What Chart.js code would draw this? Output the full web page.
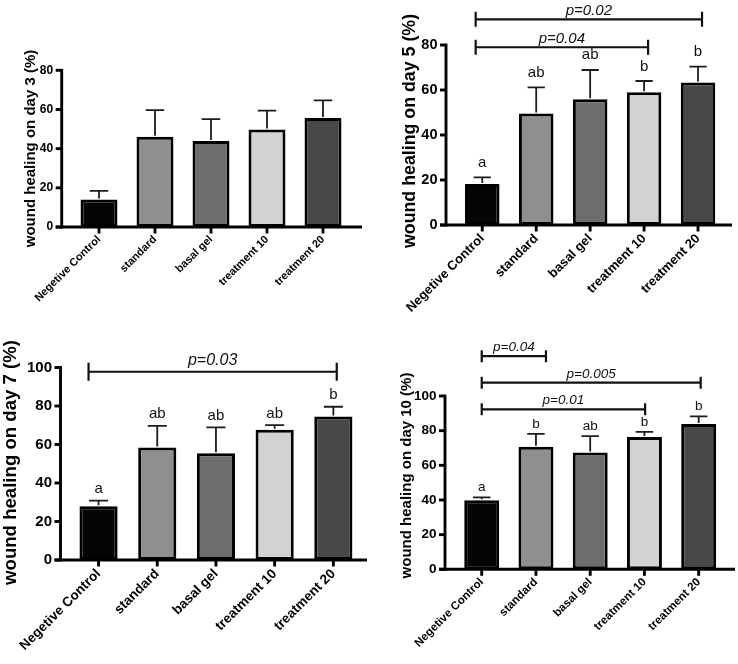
<!DOCTYPE html>
<html><head><meta charset="utf-8">
<script src="https://cdn.jsdelivr.net/npm/chart.js@4.4.1/dist/chart.umd.min.js"></script>
<style>
html,body{margin:0;padding:0;background:#fff;}
#wrap{position:relative;width:738px;height:664px;overflow:hidden;background:#fff;}
canvas{position:absolute;}
</style></head><body><div id="wrap"></div>
<script>
// ---------- DATA ----------
const categories = ['Negetive Control', 'standard', 'basal gel', 'treatment 10', 'treatment 20'];
const barColors = ['#050505', '#8f8f8f', '#6d6d6d', '#d2d2d2', '#484848'];

const day3Means = [14.1, 46.1, 43.9, 49.8, 55.6];
const day3Errors = [4.3, 13.6, 11.2, 9.6, 9.0];
const day3Ticks = [0, 20, 40, 60, 80];
const day3Letters = [];
const day3Brackets = [];

const day5Means = [18.2, 49.6, 55.9, 59.0, 63.3];
const day5Errors = [3.0, 11.6, 13.0, 5.0, 7.1];
const day5Ticks = [0, 20, 40, 60, 80];
const day5Letters = ['a', 'ab', 'ab', 'b', 'b'];
const day5Brackets = [
  { from: 0, to: 3, level: 79.0, label: 'p=0.04' },
  { from: 0, to: 4, level: 91.4, label: 'p=0.02' }
];

const day7Means = [27.9, 58.5, 55.5, 67.6, 74.6];
const day7Errors = [2.9, 11.2, 13.4, 2.5, 5.0];
const day7Ticks = [0, 20, 40, 60, 80, 100];
const day7Letters = ['a', 'ab', 'ab', 'ab', 'b'];
const day7Brackets = [
  { from: 0, to: 4, level: 97.8, label: 'p=0.03' }
];

const day10Means = [39.8, 70.7, 67.4, 76.4, 83.8];
const day10Errors = [1.7, 7.5, 9.4, 2.9, 4.4];
const day10Ticks = [0, 20, 40, 60, 80, 100];
const day10Letters = ['a', 'b', 'ab', 'b', 'b'];
const day10Brackets = [
  { from: 0, to: 1, level: 123.0, label: 'p=0.04' },
  { from: 0, to: 4, level: 107.7, label: 'p=0.005' },
  { from: 0, to: 3, level: 92.3, label: 'p=0.01' }
];

// ---------- LAYOUT / STYLE ----------
const FONT = "'Liberation Sans', Arial, Helvetica, sans-serif";
const panels = [
  { title: 'wound healing on day 3 (%)', means: day3Means, errors: day3Errors, ticks: day3Ticks,
    letters: day3Letters, brackets: day3Brackets, nudges: [],
    box: { x: 0, y: 0, w: 369, h: 330 }, axisX: 61.7, left: 71, right: 351, top: 70.3, bottom: 227, axisEnd: 362,
    barPct: 0.66, yFont: 12, xFont: 11, xPad: 6, titleFont: 15, titlePos: [31, 148.5],
    letterFont: 15, letterGap: 10, pFont: 15, pGap: 4.5, bracketTick: 7.5 },
  { title: 'wound healing on day 5 (%)', means: day5Means, errors: day5Errors, ticks: day5Ticks,
    letters: day5Letters, brackets: day5Brackets, nudges: [[-6.6, 4], [-6.6, 4]],
    box: { x: 369, y: 0, w: 369, h: 330 }, axisX: 446, left: 455.3, right: 725, top: 45, bottom: 225, axisEnd: 732,
    barPct: 0.64, yFont: 14.5, xFont: 13, xPad: 6, titleFont: 17.8, titlePos: [410, 131],
    letterFont: 15, letterGap: 10.5, pFont: 15, pGap: 4.5, bracketTick: 7.5 },
  { title: 'wound healing on day 7 (%)', means: day7Means, errors: day7Errors, ticks: day7Ticks,
    letters: day7Letters, brackets: day7Brackets, nudges: [[-10, 3.4]],
    box: { x: 0, y: 330, w: 369, h: 334 }, axisX: 60.5, left: 69.2, right: 362.7, top: 367.5, bottom: 560, axisEnd: 367,
    barPct: 0.65, yFont: 15, xFont: 13.5, xPad: 6, titleFont: 18.6, titlePos: [11, 462.5],
    letterFont: 15, letterGap: 7.5, pFont: 16, pGap: 7, bracketTick: 9 },
  { title: 'wound healing on day 10 (%)', means: day10Means, errors: day10Errors, ticks: day10Ticks,
    letters: day10Letters, brackets: day10Brackets, nudges: [[0, 10], [0, 2], [0, 0.7]],
    box: { x: 369, y: 330, w: 369, h: 334 }, axisX: 445, left: 454.6, right: 725.8, top: 396, bottom: 569.3, axisEnd: 735,
    barPct: 0.645, yFont: 13.5, xFont: 11.5, xPad: 6, titleFont: 15, titlePos: [407, 475.5],
    letterFont: 13.5, letterGap: 6, pFont: 13.5, pGap: 5, bracketTick: 6 }
];

const wrap = document.getElementById('wrap');

panels.forEach((p, idx) => {
  const cv = document.createElement('canvas');
  cv.width = p.box.w; cv.height = p.box.h;
  cv.style.left = p.box.x + 'px'; cv.style.top = p.box.y + 'px';
  cv.style.width = p.box.w + 'px'; cv.style.height = p.box.h + 'px';
  wrap.appendChild(cv);

  const yMax = p.ticks[p.ticks.length - 1];
  const yStep = p.ticks[1] - p.ticks[0];

  const decor = {
    id: 'decor' + idx,
    afterDraw(chart) {
      const ctx = chart.ctx;
      const xs = chart.scales.x, ys = chart.scales.y;
      const ox = p.box.x, oy = p.box.y;
      const ax = p.axisX - ox;
      const y0 = ys.getPixelForValue(0);
      const yT = ys.getPixelForValue(yMax);
      ctx.save();
      ctx.strokeStyle = '#000';
      ctx.lineWidth = 2.9;
      ctx.lineCap = 'butt';
      // y axis
      ctx.beginPath(); ctx.moveTo(ax, y0 + 1.4); ctx.lineTo(ax, yT - 1.4); ctx.stroke();
      p.ticks.forEach(t => {
        const y = ys.getPixelForValue(t);
        ctx.beginPath(); ctx.moveTo(ax - 6, y); ctx.lineTo(ax, y); ctx.stroke();
      });
      // x axis
      ctx.beginPath(); ctx.moveTo(ax - 6, y0); ctx.lineTo(p.axisEnd - ox, y0); ctx.stroke();
      categories.forEach((c, i) => {
        const x = xs.getPixelForValue(i);
        ctx.beginPath(); ctx.moveTo(x, y0); ctx.lineTo(x, y0 + 6.5); ctx.stroke();
      });
      // error bars and letters
      const meta = chart.getDatasetMeta(0);
      meta.data.forEach((bar, i) => {
        const x = bar.x;
        const yb = ys.getPixelForValue(p.means[i]);
        const ye = ys.getPixelForValue(p.means[i] + p.errors[i]);
        const cap = bar.width * 0.25;
        ctx.lineWidth = 1.8; ctx.strokeStyle = '#1c1c1c';
        ctx.beginPath();
        ctx.moveTo(x, yb - 1); ctx.lineTo(x, ye);
        ctx.moveTo(x - cap, ye); ctx.lineTo(x + cap, ye);
        ctx.stroke();
        if (p.letters[i]) {
          ctx.fillStyle = '#111';
          ctx.font = p.letterFont + 'px ' + FONT;
          ctx.textAlign = 'center'; ctx.textBaseline = 'alphabetic';
          ctx.fillText(p.letters[i], x, ye - p.letterGap);
        }
      });
      // significance brackets
      p.brackets.forEach((b, k) => {
        const n = p.nudges[k] || [0, 0];
        const x1 = xs.getPixelForValue(b.from) + n[0];
        const x2 = xs.getPixelForValue(b.to) + n[1];
        const y = ys.getPixelForValue(b.level);
        ctx.lineWidth = 2.2; ctx.strokeStyle = '#111';
        ctx.beginPath();
        ctx.moveTo(x1, y); ctx.lineTo(x2, y);
        ctx.moveTo(x1, y - p.bracketTick); ctx.lineTo(x1, y + p.bracketTick);
        ctx.moveTo(x2, y - p.bracketTick); ctx.lineTo(x2, y + p.bracketTick);
        ctx.stroke();
        ctx.fillStyle = '#111';
        ctx.font = 'italic ' + p.pFont + 'px ' + FONT;
        ctx.textAlign = 'center'; ctx.textBaseline = 'alphabetic';
        ctx.fillText(b.label, (x1 + x2) / 2, y - p.pGap);
      });
      // y title
      ctx.translate(p.titlePos[0] - ox, p.titlePos[1] - oy);
      ctx.rotate(-Math.PI / 2);
      ctx.fillStyle = '#000';
      ctx.font = 'bold ' + p.titleFont + 'px ' + FONT;
      ctx.textAlign = 'center'; ctx.textBaseline = 'middle';
      ctx.fillText(p.title, 0, 0);
      ctx.restore();
    }
  };

  new Chart(cv, {
    type: 'bar',
    data: {
      labels: categories,
      datasets: [{
        data: p.means,
        backgroundColor: barColors,
        borderColor: '#000',
        borderWidth: 3,
        borderSkipped: false,
        barPercentage: p.barPct,
        categoryPercentage: 1
      }]
    },
    options: {
      responsive: false,
      animation: false,
      devicePixelRatio: 1,
      layout: { padding: { left: 0, right: p.box.w - (p.right - p.box.x), top: p.top - p.box.y, bottom: 0 } },
      plugins: { legend: { display: false }, tooltip: { enabled: false }, title: { display: false } },
      scales: {
        x: {
          grid: { display: false, drawTicks: false },
          border: { display: false },
          ticks: {
            autoSkip: false, minRotation: 45, maxRotation: 45, padding: p.xPad, color: '#000',
            font: { family: FONT, size: p.xFont, weight: 'bold' }
          },
          afterFit(s) { s.height = p.box.y + p.box.h - p.bottom; }
        },
        y: {
          min: 0, max: yMax,
          grid: { display: false, drawTicks: false },
          border: { display: false },
          ticks: {
            stepSize: yStep, padding: (p.left - p.axisX) + 8.5, color: '#000',
            font: { family: FONT, size: p.yFont, weight: 'bold' }
          },
          afterFit(s) { s.width = p.left - p.box.x; }
        }
      }
    },
    plugins: [decor]
  });
});
</script>
</body></html>
